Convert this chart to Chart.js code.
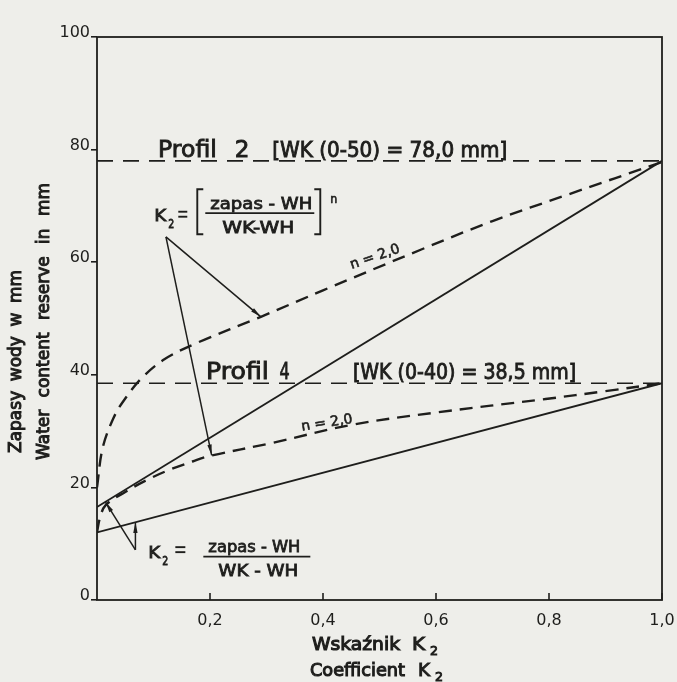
<!DOCTYPE html>
<html><head><meta charset="utf-8">
<script src="https://cdn.jsdelivr.net/npm/chart.js@4.4.1/dist/chart.umd.min.js"></script>
<style>html,body{margin:0;padding:0;background:#eeeeea;overflow:hidden}canvas{display:block}</style>
</head><body>
<canvas id="c" width="677" height="682"></canvas>
<script>
// ---------- DATA ----------
const yTicks = [0, 20, 40, 60, 80, 100];
const xTicks = [0.2, 0.4, 0.6, 0.8, 1.0];
const xTickLabels = ['0,2', '0,4', '0,6', '0,8', '1,0'];

const profil2WK_K = [0, 1];
const profil2WK_W = [78.0, 78.0];
const profil2Lin_K = [0, 1];
const profil2Lin_W = [16.5, 78.0];
const profil2Pow_K = [0, 0.01, 0.03, 0.05, 0.08, 0.12, 0.18, 0.29, 0.4, 0.575, 0.7, 0.833, 1.0];
const profil2Pow_W = [20, 27.0, 32.5, 35.8, 39.5, 42.8, 45.8, 50.3, 55.0, 62.3, 67.3, 72.0, 77.8];

const profil4WK_K = [0, 1];
const profil4WK_W = [38.5, 38.5];
const profil4Lin_K = [0, 1];
const profil4Lin_W = [12.0, 38.5];
const profil4Pow_K = [0, 0.005, 0.015, 0.05, 0.094, 0.13, 0.169, 0.2, 0.31, 0.45, 0.6, 0.794, 0.9, 1.0];
const profil4Pow_W = [12, 14.5, 16.8, 19.2, 21.6, 23.2, 24.6, 25.6, 27.9, 31.1, 33.3, 35.7, 37.1, 38.5];

// ---------- STYLE ----------
const INK = '#1e1e1c';
const PAPER = '#eeeeea';
const FONT = '"DejaVu Sans", sans-serif';

const zip = (ks, ws) => ks.map((k, i) => ({ x: k, y: ws[i] }));

// annotation anchors in data units (k, w)
const notes = {
  p2: { base: 78.6, profil: [0.108, 0.212], num: [0.244, 0.27], wk: [0.31, 0.726] },
  p4: { base: 39.2, profil: [0.193, 0.304], num: [0.323, 0.341], wk: [0.453, 0.848] },
  n2a: { at: [0.492, 60.9], rot: -19 },
  n2b: { at: [0.407, 31.4], rot: -9 },
  f1: [0.289, 68.7],
  f2: [0.282, 7.7],
  arrowsA: { tail: [0.122, 64.5], tips: [[0.29, 50.3], [0.203, 25.7]] },
  arrowsB: { tail: [0.068, 8.9], tips: [[0.015, 17.4], [0.068, 13.8]] }
};

function P(chart, kw) {
  return [chart.scales.x.getPixelForValue(kw[0]), chart.scales.y.getPixelForValue(kw[1])];
}
function setFont(ctx, size) { ctx.font = size + 'px ' + FONT; }
function ink(ctx, text, x, y, sw) {
  ctx.fillText(text, x, y);
  ctx.lineWidth = sw || 0.6; ctx.strokeText(text, x, y);
}
function fitText(ctx, text, x0, x1, base, size, sw) {
  ctx.save();
  setFont(ctx, size);
  const w = ctx.measureText(text).width;
  ctx.translate(x0, base);
  ctx.scale((x1 - x0) / w, 1);
  ctx.textAlign = 'left'; ctx.textBaseline = 'alphabetic';
  ink(ctx, text, 0, 0, sw);
  ctx.restore();
}
function spread(ctx, words, x0, x1, base, size, sw) {
  setFont(ctx, size);
  ctx.textAlign = 'left';
  const ws = words.map(w => ctx.measureText(w).width);
  const tot = ws.reduce((a, b) => a + b, 0);
  const gap = (x1 - x0 - tot) / Math.max(1, words.length - 1);
  let x = x0;
  words.forEach((w, i) => { ink(ctx, w, x, base, sw); x += ws[i] + gap; });
}
function arrow(ctx, a, b) {
  ctx.lineWidth = 1.5;
  ctx.beginPath(); ctx.moveTo(a[0], a[1]); ctx.lineTo(b[0], b[1]); ctx.stroke();
  const ang = Math.atan2(b[1] - a[1], b[0] - a[0]);
  const L = 11, h = 0.2;
  ctx.beginPath();
  ctx.moveTo(b[0], b[1]);
  ctx.lineTo(b[0] - L * Math.cos(ang - h), b[1] - L * Math.sin(ang - h));
  ctx.lineTo(b[0] - L * Math.cos(ang + h), b[1] - L * Math.sin(ang + h));
  ctx.closePath(); ctx.fill();
}
function hline(ctx, x0, x1, y, lw) {
  ctx.lineWidth = lw; ctx.beginPath(); ctx.moveTo(x0, y); ctx.lineTo(x1, y); ctx.stroke();
}
function eq(ctx, x0, x1, cy) { hline(ctx, x0, x1, cy - 2.5, 1.9); hline(ctx, x0, x1, cy + 2.5, 1.9); }
function bracket(ctx, x, y0, y1, dir) {
  ctx.lineWidth = 1.9;
  ctx.beginPath();
  ctx.moveTo(x + dir * 6, y0); ctx.lineTo(x, y0); ctx.lineTo(x, y1); ctx.lineTo(x + dir * 6, y1);
  ctx.stroke();
}

const annot = {
  id: 'annot',
  beforeDraw(chart) {
    const c = chart.ctx;
    c.save(); c.fillStyle = PAPER; c.fillRect(0, 0, chart.width, chart.height); c.restore();
  },
  afterDatasetsDraw(chart) {
    const c = chart.ctx, a = chart.chartArea, xs = chart.scales.x, ys = chart.scales.y;
    c.save();
    c.strokeStyle = INK; c.fillStyle = INK; c.lineCap = 'butt';
    // frame
    c.lineWidth = 1.8;
    c.strokeRect(a.left, a.top, a.right - a.left, a.bottom - a.top);
    // inward x ticks
    c.lineWidth = 1.6;
    xTicks.forEach(v => {
      const x = xs.getPixelForValue(v);
      c.beginPath(); c.moveTo(x, a.bottom); c.lineTo(x, a.bottom - 7); c.stroke();
    });

    // Profil texts
    [['p2', '2', '[WK (0-50) = 78,0 mm]'], ['p4', '4', '[WK (0-40) = 38,5 mm]']].forEach(([key, num, wk]) => {
      const n = notes[key];
      const base = ys.getPixelForValue(n.base);
      fitText(c, 'Profil', xs.getPixelForValue(n.profil[0]), xs.getPixelForValue(n.profil[1]), base, 23, 0.9);
      fitText(c, num, xs.getPixelForValue(n.num[0]), xs.getPixelForValue(n.num[1]), base, 23, 0.9);
      fitText(c, wk, xs.getPixelForValue(n.wk[0]), xs.getPixelForValue(n.wk[1]), base, 21, 0.9);
    });

    // n = 2,0 labels
    [notes.n2a, notes.n2b].forEach(n => {
      const p = P(chart, n.at);
      c.save(); c.translate(p[0], p[1]); c.rotate(n.rot * Math.PI / 180);
      setFont(c, 14); c.textAlign = 'center'; c.textBaseline = 'middle';
      ink(c, 'n = 2,0', 0, 0, 0.6);
      c.restore();
    });

    // formula 1 : K2 = [ (zapas - WH)/(WK-WH) ]^n
    {
      const [cx, by] = P(chart, notes.f1);
      fitText(c, 'K', cx - 106, cx - 94, by + 8, 16, 0.8);
      fitText(c, '2', cx - 92, cx - 86, by + 15, 12, 0.8);
      eq(c, cx - 82, cx - 73, by + 1);
      bracket(c, cx - 63, by - 24, by + 21, 1);
      fitText(c, 'zapas - WH', cx - 50, cx + 52, by - 4, 16, 0.8);
      hline(c, cx - 55, cx + 54, by, 1.7);
      fitText(c, 'WK-WH', cx - 38, cx + 34, by + 20, 16, 0.8);
      bracket(c, cx + 60, by - 24, by + 21, -1);
      fitText(c, 'n', cx + 70, cx + 77, by - 10, 13, 0.7);
    }
    // formula 2 : K2 = (zapas - WH)/(WK - WH)
    {
      const [cx, by] = P(chart, notes.f2);
      fitText(c, 'K', cx - 108, cx - 96, by + 1, 16, 0.8);
      fitText(c, '2', cx - 94, cx - 88, by + 8, 12, 0.8);
      eq(c, cx - 81, cx - 71, by - 7);
      fitText(c, 'zapas - WH', cx - 48, cx + 44, by - 5, 16, 0.8);
      hline(c, cx - 53, cx + 54, by, 1.7);
      fitText(c, 'WK - WH', cx - 38, cx + 42, by + 19, 16, 0.8);
    }

    // arrows
    [notes.arrowsA, notes.arrowsB].forEach(g => {
      const t = P(chart, g.tail);
      g.tips.forEach(tp => arrow(c, t, P(chart, tp)));
    });

    // axis titles
    c.save(); c.translate(17, 453); c.rotate(-Math.PI / 2);
    c.textBaseline = 'middle';
    spread(c, ['Zapasy', 'wody', 'w', 'mm'], 0, 183, 0, 17, 1.0);
    c.restore();
    c.save(); c.translate(45, 460); c.rotate(-Math.PI / 2);
    c.textBaseline = 'middle';
    spread(c, ['Water', 'content', 'reserve', 'in', 'mm'], 0, 277, 0, 17, 1.0);
    c.restore();

    fitText(c, 'Wskaźnik', 312, 400, 650, 18, 1.1);
    fitText(c, 'K', 412, 425, 650, 18, 1.0);
    fitText(c, '2', 430, 438, 655, 13, 1.0);
    fitText(c, 'Coefficient', 310, 405, 676, 18, 1.1);
    fitText(c, 'K', 418, 430, 676, 18, 1.0);
    fitText(c, '2', 435, 443, 681, 13, 1.0);

    c.restore();
  }
};

const solid = { borderColor: INK, borderWidth: 1.8, pointRadius: 0, fill: false, tension: 0 };
const wkDash = { borderColor: INK, borderWidth: 1.6, borderDash: [16, 10], pointRadius: 0, fill: false, tension: 0 };
const curveDash = { borderColor: INK, borderWidth: 2.4, borderDash: [13, 8], pointRadius: 0, fill: false, tension: 0.35 };

new Chart(document.getElementById('c').getContext('2d'), {
  type: 'line',
  data: {
    datasets: [
      { label: 'Profil 2 WK', data: zip(profil2WK_K, profil2WK_W), ...wkDash },
      { label: 'Profil 2 linear', data: zip(profil2Lin_K, profil2Lin_W), ...solid },
      { label: 'Profil 2 n=2,0', data: zip(profil2Pow_K, profil2Pow_W), ...curveDash },
      { label: 'Profil 4 WK', data: zip(profil4WK_K, profil4WK_W), ...wkDash },
      { label: 'Profil 4 linear', data: zip(profil4Lin_K, profil4Lin_W), ...solid },
      { label: 'Profil 4 n=2,0', data: zip(profil4Pow_K, profil4Pow_W), ...curveDash }
    ]
  },
  options: {
    responsive: false, animation: false, devicePixelRatio: 1,
    layout: { padding: { top: 37, right: 15, left: 0, bottom: 0 } },
    plugins: { legend: { display: false }, tooltip: { enabled: false } },
    scales: {
      x: {
        type: 'linear', min: 0, max: 1,
        afterBuildTicks: s => { s.ticks = xTicks.map(v => ({ value: v })); },
        ticks: {
          autoSkip: false, maxRotation: 0, padding: 11, color: INK,
          font: { family: FONT, size: 16 },
          callback: v => { const i = xTicks.findIndex(t => Math.abs(t - v) < 1e-6); return i >= 0 ? xTickLabels[i] : ''; }
        },
        grid: { display: false, drawTicks: false },
        border: { display: false },
        afterFit: s => { s.height = 82; s.paddingLeft = 0; s.paddingRight = 0; }
      },
      y: {
        type: 'linear', min: 0, max: 100,
        afterBuildTicks: s => { s.ticks = yTicks.map(v => ({ value: v })); },
        ticks: { autoSkip: false, padding: 1, labelOffset: -4, color: INK, font: { family: FONT, size: 16 }, callback: v => String(v) },
        grid: { drawOnChartArea: false, drawTicks: true, tickLength: 6, color: INK, lineWidth: 1.6 },
        border: { display: false },
        afterFit: s => { s.width = 97; s.paddingTop = 0; s.paddingBottom = 0; }
      }
    }
  },
  plugins: [annot]
});
</script>
</body></html>
